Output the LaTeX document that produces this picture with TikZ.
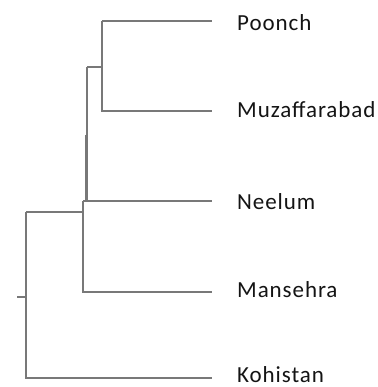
\documentclass[tikz,border=0pt]{standalone}
\usepackage{fontspec}
\setmainfont{Carlito}[LetterSpace=4]
\definecolor{branch}{RGB}{120,120,120}
\definecolor{labtext}{RGB}{20,20,20}
\begin{document}
\begin{tikzpicture}[x=1pt,y=-1pt,
  edge/.style={draw=branch,line width=1.8pt},
  taxon/.style={anchor=base west,inner sep=0pt,text=labtext,font=\fontsize{23}{26}\selectfont}]
\useasboundingbox (0,0) rectangle (377,387);
% internal nodes
\coordinate (pm) at (102,67);
\coordinate (pmn) at (87,201);
\coordinate (inner) at (83,212);
\coordinate (root) at (26,297);
\coordinate (stub) at (17,297);
% leaf ends
\coordinate (ePoonch) at (212,21);
\coordinate (eMuz) at (212,111);
\coordinate (eNeelum) at (212,201);
\coordinate (eMansehra) at (212,292);
\coordinate (eKohistan) at (212,378);
% labels
\node[taxon] (Poonch) at (237,31) {Poonch};
\node[taxon] (Muz) at (237,118) {Muzaffarabad};
\node[taxon] (Neelum) at (237,209) {Neelum};
\node[taxon] (Mansehra) at (237,297) {Mansehra};
\node[taxon] (Kohistan) at (237,382) {Kohistan};
% branches
\draw[edge] (pm |- ePoonch) -- (ePoonch);
\draw[edge] (pm |- ePoonch) -- (pm |- eMuz) -- (eMuz);
\draw[edge] (pmn |- pm) -- (pm);
\draw[edge] (pmn |- pm) -- (pmn) -- (eNeelum);
\draw[edge] (85.5,135) -- (85.5,201);
\draw[edge] (inner |- pmn) -- (pmn);
\draw[edge] (inner |- pmn) -- (inner |- eMansehra) -- (eMansehra);
\draw[edge] (root |- inner) -- (inner);
\draw[edge] (root |- inner) -- (root |- eKohistan) -- (eKohistan);
\draw[edge] (stub) -- (root);
\end{tikzpicture}
\end{document}
